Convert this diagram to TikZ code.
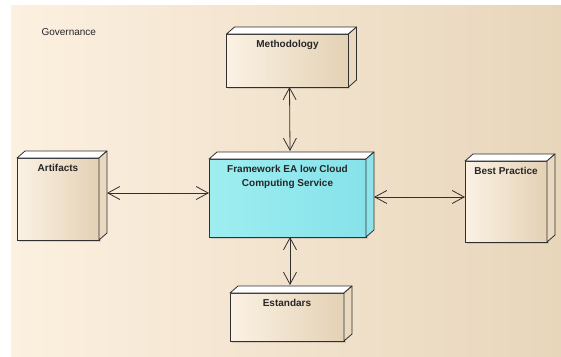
\documentclass[tikz,border=0pt]{standalone}
\usepackage{fontspec}
\setmainfont{Liberation Sans}
\usetikzlibrary{arrows.meta,calc,shadows}
\usetikzlibrary{positioning}
\definecolor{paperleft}{HTML}{FCF0E0}
\definecolor{paperright}{HTML}{E8D6BB}
\definecolor{beigeleft}{HTML}{FBF2E4}
\definecolor{beigeright}{HTML}{E4D1B5}
\definecolor{beigeside}{HTML}{E9D9C1}
\definecolor{cyanleft}{HTML}{9EEEF0}
\definecolor{cyanmid}{HTML}{B2F8F8}
\definecolor{cyanright}{HTML}{86E2EA}
\definecolor{cyanside}{HTML}{8EE4EA}
\definecolor{edge}{HTML}{303030}
\tikzset{
    cube/.style={
           rectangle,
           draw=edge, line width=0.8pt,
           outer sep=0pt,
           inner sep=0pt,
           drop shadow={shadow xshift=1.5pt, shadow yshift=-2pt, opacity=0.25},
           },
    beige/.style={left color=beigeleft, right color=beigeright},
    aqua/.style={left color=cyanleft, middle color=cyanmid, right color=cyanright},
    title/.style={
           font=\fontsize{10}{14}\selectfont\bfseries,
           align=center,
           text=black!85,
           anchor=north,
           yshift=-3pt},
    pil/.style={
           {Straight Barb[length=12pt,width=13pt]}-{Straight Barb[length=12pt,width=13pt]},
           line width=0.8pt,
           draw=edge,}
}
% top and right faces of a box
\newcommand{\boxfaces}[2]{
  \filldraw[fill=white, draw=edge, line width=0.8pt, line join=round]
    (#1.north west) -- ++(8pt,7pt) -- ($(#1.north east)+(8pt,7pt)$) -- (#1.north east) -- cycle;
  \filldraw[fill=#2, draw=edge, line width=0.8pt, line join=round]
    (#1.north east) -- ++(8pt,7pt) -- ($(#1.south east)+(8pt,7pt)$) -- (#1.south east) -- cycle;
}
\begin{document}
\begin{tikzpicture}[x=1pt,y=1pt]
\useasboundingbox (0,0) rectangle (561,-356);
\fill[left color=paperleft, right color=paperright] (11,-5) rectangle (561,-356);
\node[anchor=west, font=\fontsize{10}{12}\selectfont, text=black!85] (GOV) at (38,-32) {Governance};
% Position of the framework (FRAMEWORK)
\node[cube, aqua,
minimum width=157pt,
minimum height=78pt,
label={[title]north:{Framework EA low Cloud\\Computing Service}}] (FRAMEWORK) at (287.5,-198) {};
% Position of Methodology (METHOD)
\node[cube, beige,
minimum width=122pt,
minimum height=53pt,
above of = FRAMEWORK,
node distance = 137.5pt,
label={[title]north:Methodology}] (METHOD) {};
% Position of Estandars (ESTANDAR)
\node[cube, beige,
minimum width=114pt,
minimum height=48pt,
below of = FRAMEWORK,
node distance = 119pt,
xshift = -0.5pt,
label={[title]north:Estandars}] (ESTANDAR) {};
% Position of Artifacts (ARTIFACT)
\node[cube, beige,
minimum width=82pt,
minimum height=82pt,
left of = FRAMEWORK,
node distance = 229.5pt,
yshift = -1pt,
label={[title]north:Artifacts}] (ARTIFACT) {};
% Position of Best Practice (BEST)
\node[cube, beige,
minimum width=82pt,
minimum height=81pt,
right of = FRAMEWORK,
node distance = 218.5pt,
yshift = -3.5pt,
label={[title]north:Best Practice}] (BEST) {};
% 3D faces
\boxfaces{FRAMEWORK}{cyanside}
\boxfaces{METHOD}{beigeside}
\boxfaces{ESTANDAR}{beigeside}
\boxfaces{ARTIFACT}{beigeside}
\boxfaces{BEST}{beigeside}
% Draw lines on graph
\draw[pil] ($(ARTIFACT.east)+(8pt,6pt)$) -- ($(FRAMEWORK.west)+(0,5pt)$);
\draw[pil] ($(FRAMEWORK.east)+(8pt,1pt)$) -- ($(BEST.west)+(0,4.5pt)$);
\draw[pil] ($(METHOD.south)+(2pt,0)$) -- ($(FRAMEWORK.north)+(2.5pt,8pt)$);
\draw[pil] ($(FRAMEWORK.south)+(2.5pt,0)$) -- ($(ESTANDAR.north)+(3pt,8pt)$);
\end{tikzpicture}
\end{document}
